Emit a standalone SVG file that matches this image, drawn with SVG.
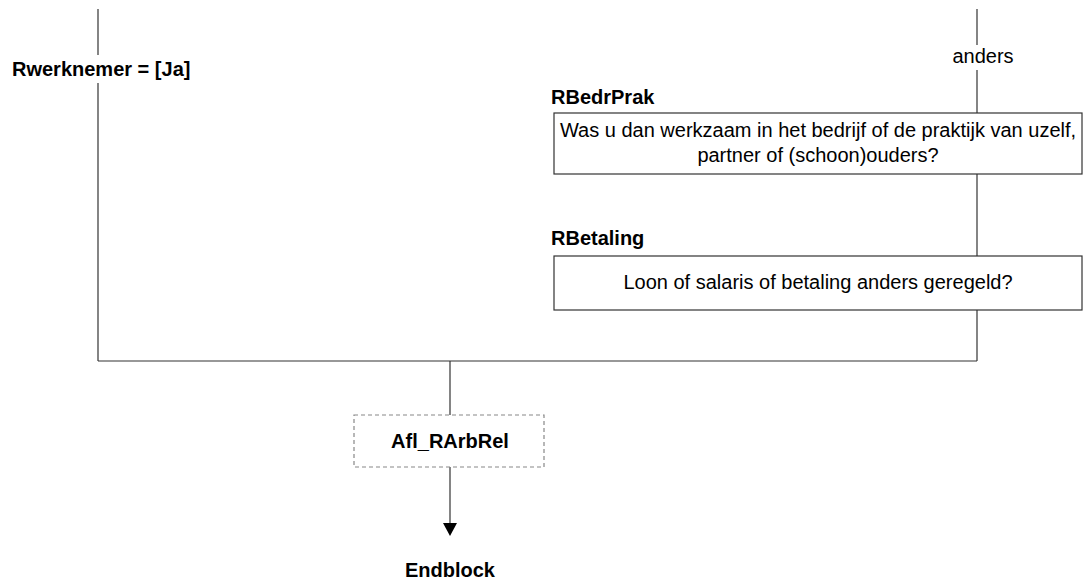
<svg xmlns="http://www.w3.org/2000/svg" width="1084" height="586" viewBox="0 0 1084 586">
<style>
text{font-family:"Liberation Sans",Arial,sans-serif;font-size:20px;fill:#000}
.b{font-weight:bold}
.c{text-anchor:middle}
.ln{stroke:#333;stroke-width:1.2;fill:none}
.box{fill:#fff;stroke:#333;stroke-width:1.2}
.dbox{fill:#fff;stroke:#888;stroke-width:1.2;stroke-dasharray:4,3}
</style>
<defs>
<marker id="arr" markerWidth="14" markerHeight="12" refX="7" refY="12" orient="auto-start-reverse" markerUnits="userSpaceOnUse" viewBox="0 0 14 12">
<path d="M0,0 L14,0 L7,12 Z" fill="#000"/>
</marker>
</defs>
<g id="connectors">
<line class="ln" x1="98" y1="9" x2="98" y2="55"/>
<line class="ln" x1="98" y1="83" x2="98" y2="361"/>
<line class="ln" x1="977" y1="9" x2="977" y2="45"/>
<line class="ln" x1="977" y1="70" x2="977" y2="113"/>
<line class="ln" x1="977" y1="174" x2="977" y2="256"/>
<line class="ln" x1="977" y1="310" x2="977" y2="361"/>
<line class="ln" x1="98" y1="361" x2="977" y2="361"/>
<line class="ln" x1="450" y1="361" x2="450" y2="415"/>
<path d="M450,467 L450,523" fill="none" stroke="#333" stroke-width="1.2"/>
<path d="M443,523 L457,523 L450,536 Z" fill="#000"/>
<text x="12" y="76"><tspan class="b">Rwerknemer = [Ja]</tspan></text>
<text class="c" x="983" y="63">anders</text>
</g>
<g id="RBedrPrak">
<text class="b" x="551" y="104">RBedrPrak</text>
<rect class="box" x="554" y="113" width="528" height="61"/>
<text class="c" x="818" y="137">Was u dan werkzaam in het bedrijf of de praktijk van uzelf,</text>
<text class="c" x="818" y="162">partner of (schoon)ouders?</text>
</g>
<g id="RBetaling">
<text class="b" x="551" y="245">RBetaling</text>
<rect class="box" x="554" y="256" width="528" height="54"/>
<text class="c" x="818" y="289">Loon of salaris of betaling anders geregeld?</text>
</g>
<g id="Afl_RArbRel">
<rect class="dbox" x="354" y="415" width="190" height="52"/>
<text class="b c" x="450" y="448">Afl_RArbRel</text>
</g>
<g id="Endblock">
<text class="b c" x="450" y="577">Endblock</text>
</g>
</svg>
